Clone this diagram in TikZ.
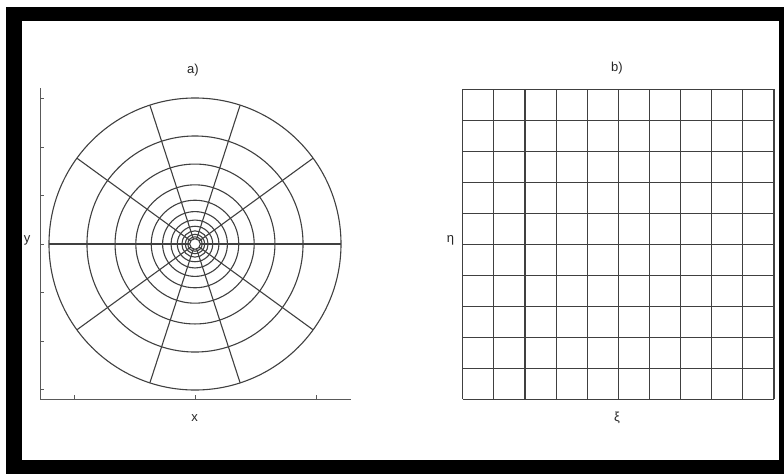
\documentclass[tikz,border=0pt]{standalone}
\usepackage{fontspec}
\setmainfont{Liberation Sans}
\begin{document}
\begin{tikzpicture}[x=1pt,y=-1pt,
  gridline/.style={draw=black!75, line width=1.1pt},
  axisline/.style={draw=black!65, line width=0.9pt},
  lbl/.style={font=\fontsize{13}{15}\selectfont, text=black!85, inner sep=0pt}]
\useasboundingbox (0,0) rectangle (784,474);
% frame
\fill[black] (6,7) rectangle (784,474);
\fill[white] (22,21) rectangle (779,460);
% panel a: polar grid
\begin{scope}[shift={(195,244)}]
  \foreach \k in {0,...,11} \draw[gridline] (0,0) circle [radius={146*0.74^\k}];
  \foreach \a in {0,36,...,324} \draw[gridline] (\a:5.3) -- (\a:146);
\end{scope}
% axes of panel a
\draw[axisline] (40,88) -- (40,399) -- (351,399);
\foreach \t in {98,147,195,244,292,341,389} \draw[axisline] (40,\t) -- (44,\t);
\foreach \t in {74,195,316} \draw[axisline] (\t,399) -- (\t,395);
% panel b: cartesian grid
\foreach \i in {0,...,10} {
  \draw[gridline] ({462.7+31.13*\i},89.3) -- ({462.7+31.13*\i},399.3);
  \draw[gridline] (462.7,{89.3+31*\i}) -- (774,{89.3+31*\i});
}
% labels
\node[lbl] (la) at (193,70) {a)};
\node[lbl] (ly) at (27,240) {y};
\node[lbl] (lx) at (194.5,418) {x};
\node[lbl] (lb) at (617,68) {b)};
\node[lbl] (leta) at (450.5,240) {η};
\node[lbl] (lxi) at (617,418) {ξ};
\end{tikzpicture}
\end{document}
